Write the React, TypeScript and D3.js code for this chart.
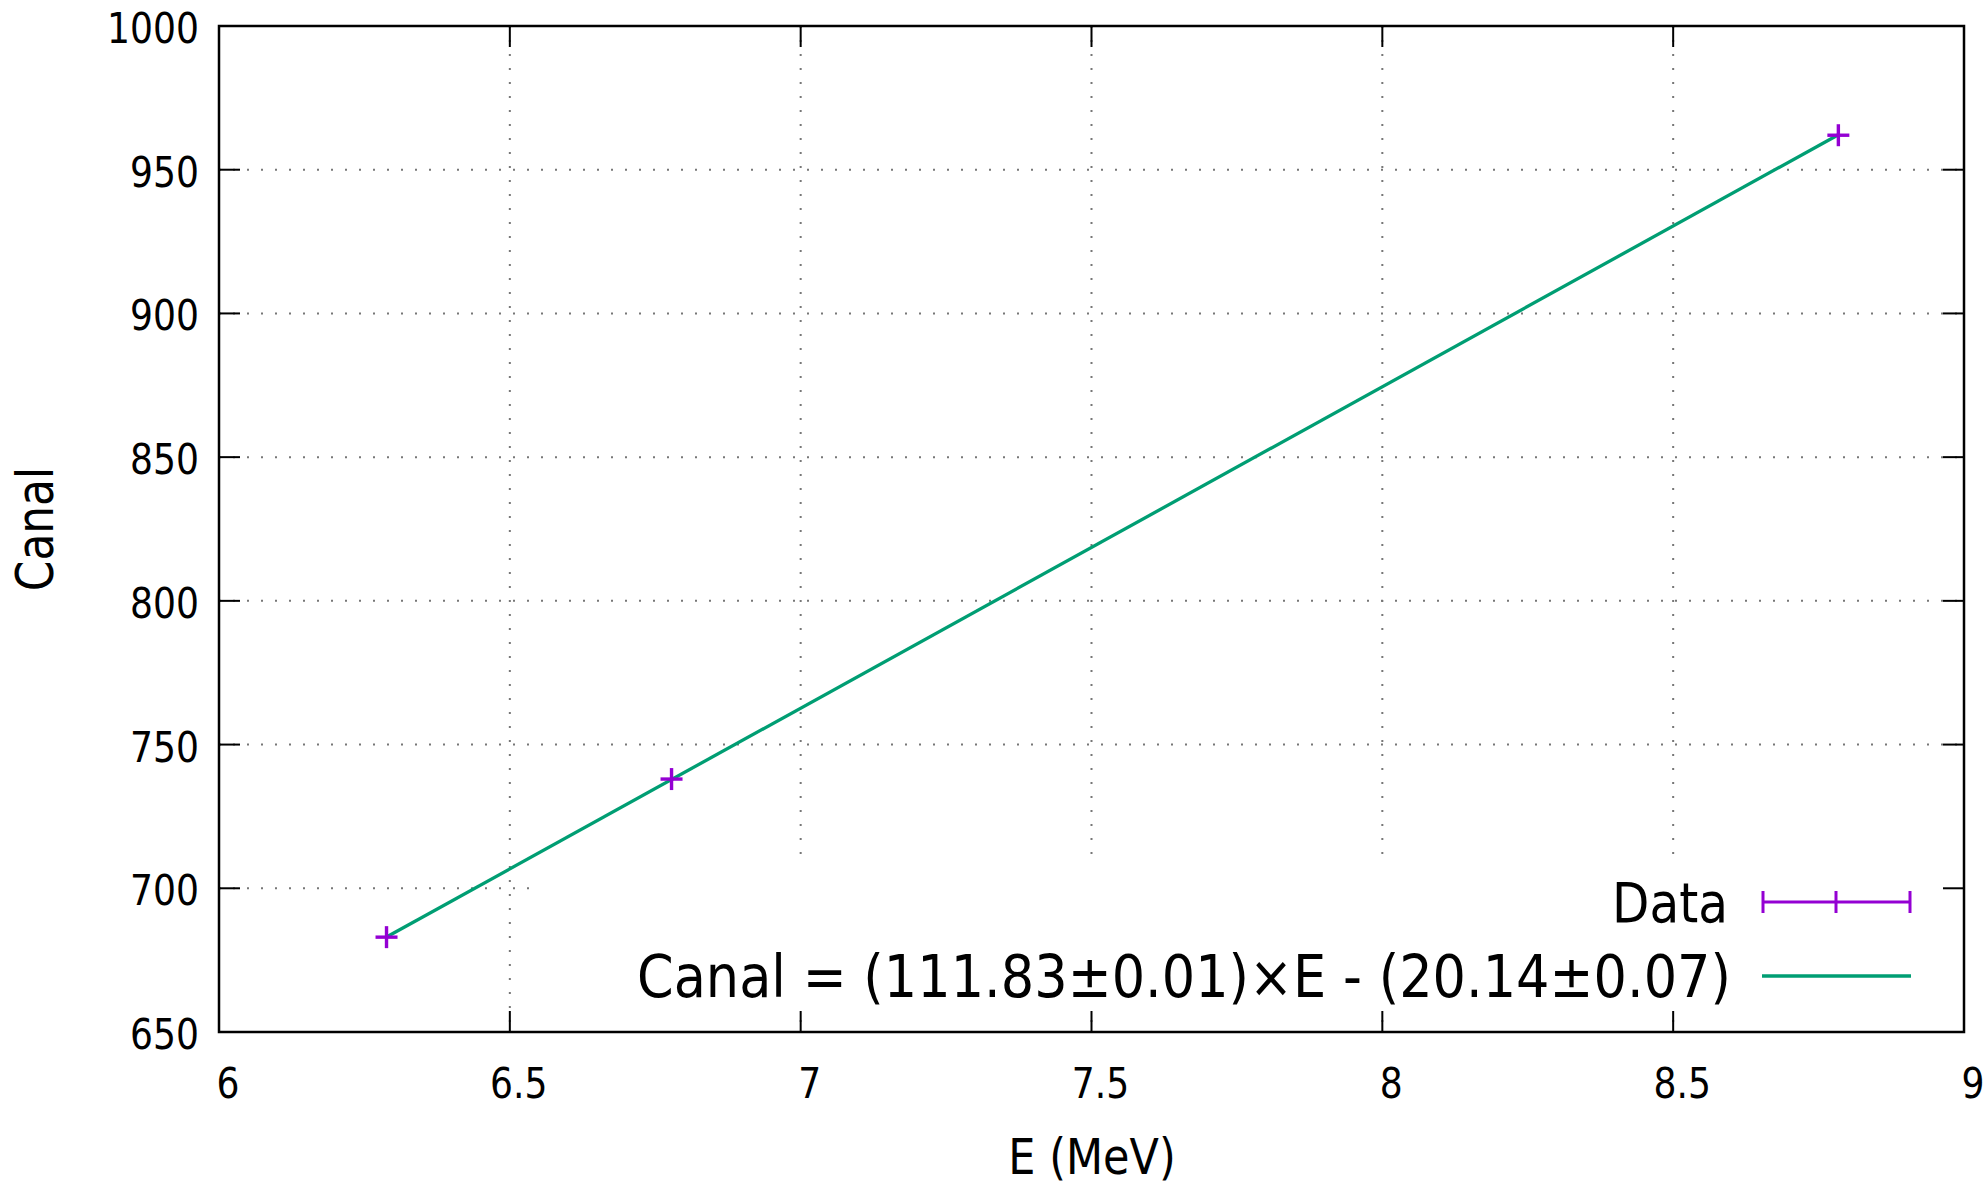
import React from "react";
import * as d3 from "d3";

const energies = [6.288, 6.778, 8.784];
const canals = [683, 738, 962];
const fitSlope = 111.83;
const fitIntercept = -20.14;
const xTicks = [6, 6.5, 7, 7.5, 8, 8.5, 9];
const xTickLabels = ["6", "6.5", "7", "7.5", "8", "8.5", "9"];
const yTicks = [650, 700, 750, 800, 850, 900, 950, 1000];
const yTickLabels = ["650", "700", "750", "800", "850", "900", "950", "1000"];
const xTitle = "E (MeV)";
const yTitle = "Canal";
const legendData = "Data";
const legendFit = "Canal = (111.83±0.01)×E - (20.14±0.07)";

const W = 1988;
const H = 1188;
const M = { left: 219, right: 1964, top: 26, bottom: 1032 };
const FONT = "'DejaVu Sans', Verdana, sans-serif";
const SX = 0.86;
const PURPLE = "#9400d3";
const GREEN = "#009e73";

function T(props: { x: number; y: number; size: number; anchor?: string; rotate?: number; children: React.ReactNode; sx?: number; textLength?: number }) {
  const { x, y, size, anchor = "start", rotate = 0, children, sx = SX, textLength } = props;
  return (
    <g transform={`translate(${x},${y}) rotate(${rotate}) scale(${sx},1)`}>
      <text
        x={0}
        y={0}
        fontFamily={FONT}
        fontSize={size}
        textAnchor={anchor}
        fill="#000"
        textLength={textLength}
        lengthAdjust={textLength ? "spacingAndGlyphs" : undefined}
      >
        {children}
      </text>
    </g>
  );
}

export default function App() {
  const x = d3.scaleLinear().domain([6, 9]).range([M.left, M.right]);
  const y = d3.scaleLinear().domain([650, 1000]).range([M.bottom, M.top]);

  const fitX = [d3.min(energies) as number, d3.max(energies) as number];
  const fitLine = d3
    .line<number>()
    .x((e) => x(e))
    .y((e) => y(fitSlope * e + fitIntercept))(fitX);

  const tickLen = 21;
  const legendBox = { x0: 533, x1: M.right - 2, y0: 866, y1: 1012 };
  const gridColor = "#777";

  return (
    <svg width={W} height={H} style={{ position: "absolute", left: 0, top: 0, background: "#fff" }}>
      <rect x={0} y={0} width={W} height={H} fill="#fff" />
      {/* grid */}
      {xTicks.slice(1, -1).map((t) => (
        <line key={"gx" + t} x1={x(t)} x2={x(t)} y1={M.top} y2={M.bottom} stroke={gridColor} strokeWidth={2} strokeDasharray="2,12" />
      ))}
      {yTicks.slice(1, -1).map((t) => (
        <line key={"gy" + t} x1={M.left} x2={M.right} y1={y(t)} y2={y(t)} stroke={gridColor} strokeWidth={2} strokeDasharray="2,12" />
      ))}
      {/* opaque legend area */}
      <rect x={legendBox.x0} y={legendBox.y0} width={legendBox.x1 - legendBox.x0} height={legendBox.y1 - legendBox.y0} fill="#fff" />

      {/* ticks */}
      {xTicks.map((t) => (
        <g key={"tx" + t}>
          <line x1={x(t)} x2={x(t)} y1={M.bottom} y2={M.bottom - tickLen} stroke="#000" strokeWidth={2} />
          <line x1={x(t)} x2={x(t)} y1={M.top} y2={M.top + tickLen} stroke="#000" strokeWidth={2} />
        </g>
      ))}
      {yTicks.map((t) => (
        <g key={"ty" + t}>
          <line x1={M.left} x2={M.left + tickLen} y1={y(t)} y2={y(t)} stroke="#000" strokeWidth={2} />
          <line x1={M.right} x2={M.right - tickLen} y1={y(t)} y2={y(t)} stroke="#000" strokeWidth={2} />
        </g>
      ))}
      {/* border */}
      <rect x={M.left} y={M.top} width={M.right - M.left} height={M.bottom - M.top} fill="none" stroke="#000" strokeWidth={2.5} />

      {/* tick labels */}
      {xTicks.map((t, i) => (
        <T key={"lx" + t} x={x(t) + 9} y={1098} size={42} anchor="middle">
          {xTickLabels[i]}
        </T>
      ))}
      {yTicks.map((t, i) => (
        <T key={"ly" + t} x={199} y={y(t) + 17} size={42} anchor="end">
          {yTickLabels[i]}
        </T>
      ))}

      {/* axis titles */}
      <T x={1092} y={1174} size={50} anchor="middle">
        {xTitle}
      </T>
      <T x={53} y={529} size={51} anchor="middle" rotate={-90}>
        {yTitle}
      </T>

      {/* fit line */}
      <path d={fitLine || ""} fill="none" stroke={GREEN} strokeWidth={3.3} />

      {/* data points */}
      {energies.map((e, i) => (
        <g key={"p" + i} stroke={PURPLE} strokeWidth={3.4}>
          <line x1={x(e) - 11} x2={x(e) + 11} y1={y(canals[i])} y2={y(canals[i])} />
          <line x1={x(e)} x2={x(e)} y1={y(canals[i]) - 11} y2={y(canals[i]) + 11} />
        </g>
      ))}

      {/* legend */}
      <T x={1728} y={922} size={56} anchor="end" sx={1} textLength={116}>
        {legendData}
      </T>
      <g stroke={PURPLE} strokeWidth={3}>
        <line x1={1763} x2={1910} y1={902} y2={902} />
        <line x1={1763} x2={1763} y1={891} y2={913} />
        <line x1={1910} x2={1910} y1={891} y2={913} />
        <line x1={1836} x2={1836} y1={891} y2={913} />
      </g>
      <T x={637} y={997} size={58} anchor="start" sx={1} textLength={1094}>
        {legendFit}
      </T>
      <line x1={1762} x2={1911} y1={976} y2={976} stroke={GREEN} strokeWidth={3.3} />
    </svg>
  );
}
